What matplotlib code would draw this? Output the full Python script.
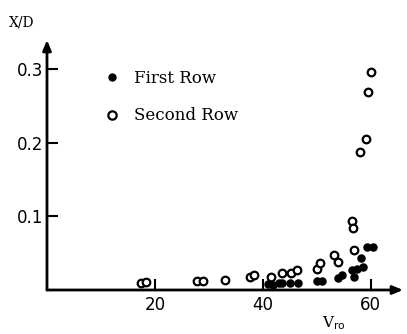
import matplotlib.pyplot as plt
from matplotlib.lines import Line2D

# Second Row (open circles)
second_v = [17.4, 18.3, 27.8, 28.9, 33.0, 37.6, 38.3, 41.6, 43.5, 45.2, 46.4,
            50.0, 50.7, 53.3, 53.9, 56.5, 56.7, 56.9, 58.0, 59.1, 59.6, 60.0]
second_xd = [0.010, 0.011, 0.012, 0.012, 0.014, 0.018, 0.020, 0.018, 0.023, 0.023, 0.027,
             0.029, 0.037, 0.048, 0.038, 0.094, 0.084, 0.054, 0.188, 0.205, 0.269, 0.297]

# First Row (filled dots)
first_v = [41.0, 41.9, 43.0, 43.5, 45.0, 46.5, 50.0, 51.0, 53.9, 54.6,
           56.5, 57.0, 57.4, 58.5, 58.3, 59.4, 60.4]
first_xd = [0.008, 0.007, 0.009, 0.009, 0.009, 0.009, 0.012, 0.012, 0.016, 0.020,
            0.027, 0.018, 0.029, 0.031, 0.043, 0.058, 0.058]

x_ticks = [20, 40, 60]
y_ticks = [0.1, 0.2, 0.3]
y_labels = ["0.1", "0.2", "0.3"]

W, H = 407, 334
fig = plt.figure(figsize=(W / 100, H / 100), dpi=100)
ax = fig.add_axes([47 / W, 44 / H, (403 - 47) / W, (290 - 40) / H])
ax.set_xlim(0, 66)
ax.set_ylim(0, 0.34)

for s in ax.spines.values():
    s.set_visible(False)

# axes drawn as arrows
arrow = dict(arrowstyle="-|>,head_length=0.6,head_width=0.25",
             lw=2, color="black", shrinkA=0, shrinkB=0)
ax.annotate("", xy=(66, 0), xytext=(0, 0), arrowprops=arrow)
ax.annotate("", xy=(0, 0.34), xytext=(0, 0), arrowprops=arrow)

ax.scatter(second_v, second_xd, s=30, facecolors="white", edgecolors="black",
           linewidths=1.6, zorder=3)
ax.scatter(first_v, first_xd, s=26, color="black", zorder=4)

ax.set_xticks(x_ticks)
ax.set_yticks(y_ticks)
ax.set_yticklabels(y_labels)
ax.tick_params(direction="in", length=8, width=1.5, labelsize=12, pad=4)
ax.tick_params(axis="y", pad=3)

fig.text(22 / W, 1 - 22 / H, "X/D", family="DejaVu Serif", fontsize=10,
         ha="center", va="center")
fig.text(334 / W, 1 - 323 / H, r"V$_{\mathrm{ro}}$", family="DejaVu Serif",
         fontsize=11, ha="center", va="center")

handles = [Line2D([], [], ls="none", marker="o", color="black", markersize=5),
           Line2D([], [], ls="none", marker="o", mfc="white", mec="black",
                  mew=1.6, markersize=6)]
leg = ax.legend(handles, ["First Row", "Second Row"], loc="upper left",
                bbox_to_anchor=(92 / W, 1 - 58 / H), bbox_transform=fig.transFigure,
                frameon=False, handletextpad=0.8, handlelength=1.0,
                labelspacing=1.25, borderpad=0.2,
                prop={"family": "DejaVu Serif", "size": 12})

fig.savefig("out.png", dpi=100)
